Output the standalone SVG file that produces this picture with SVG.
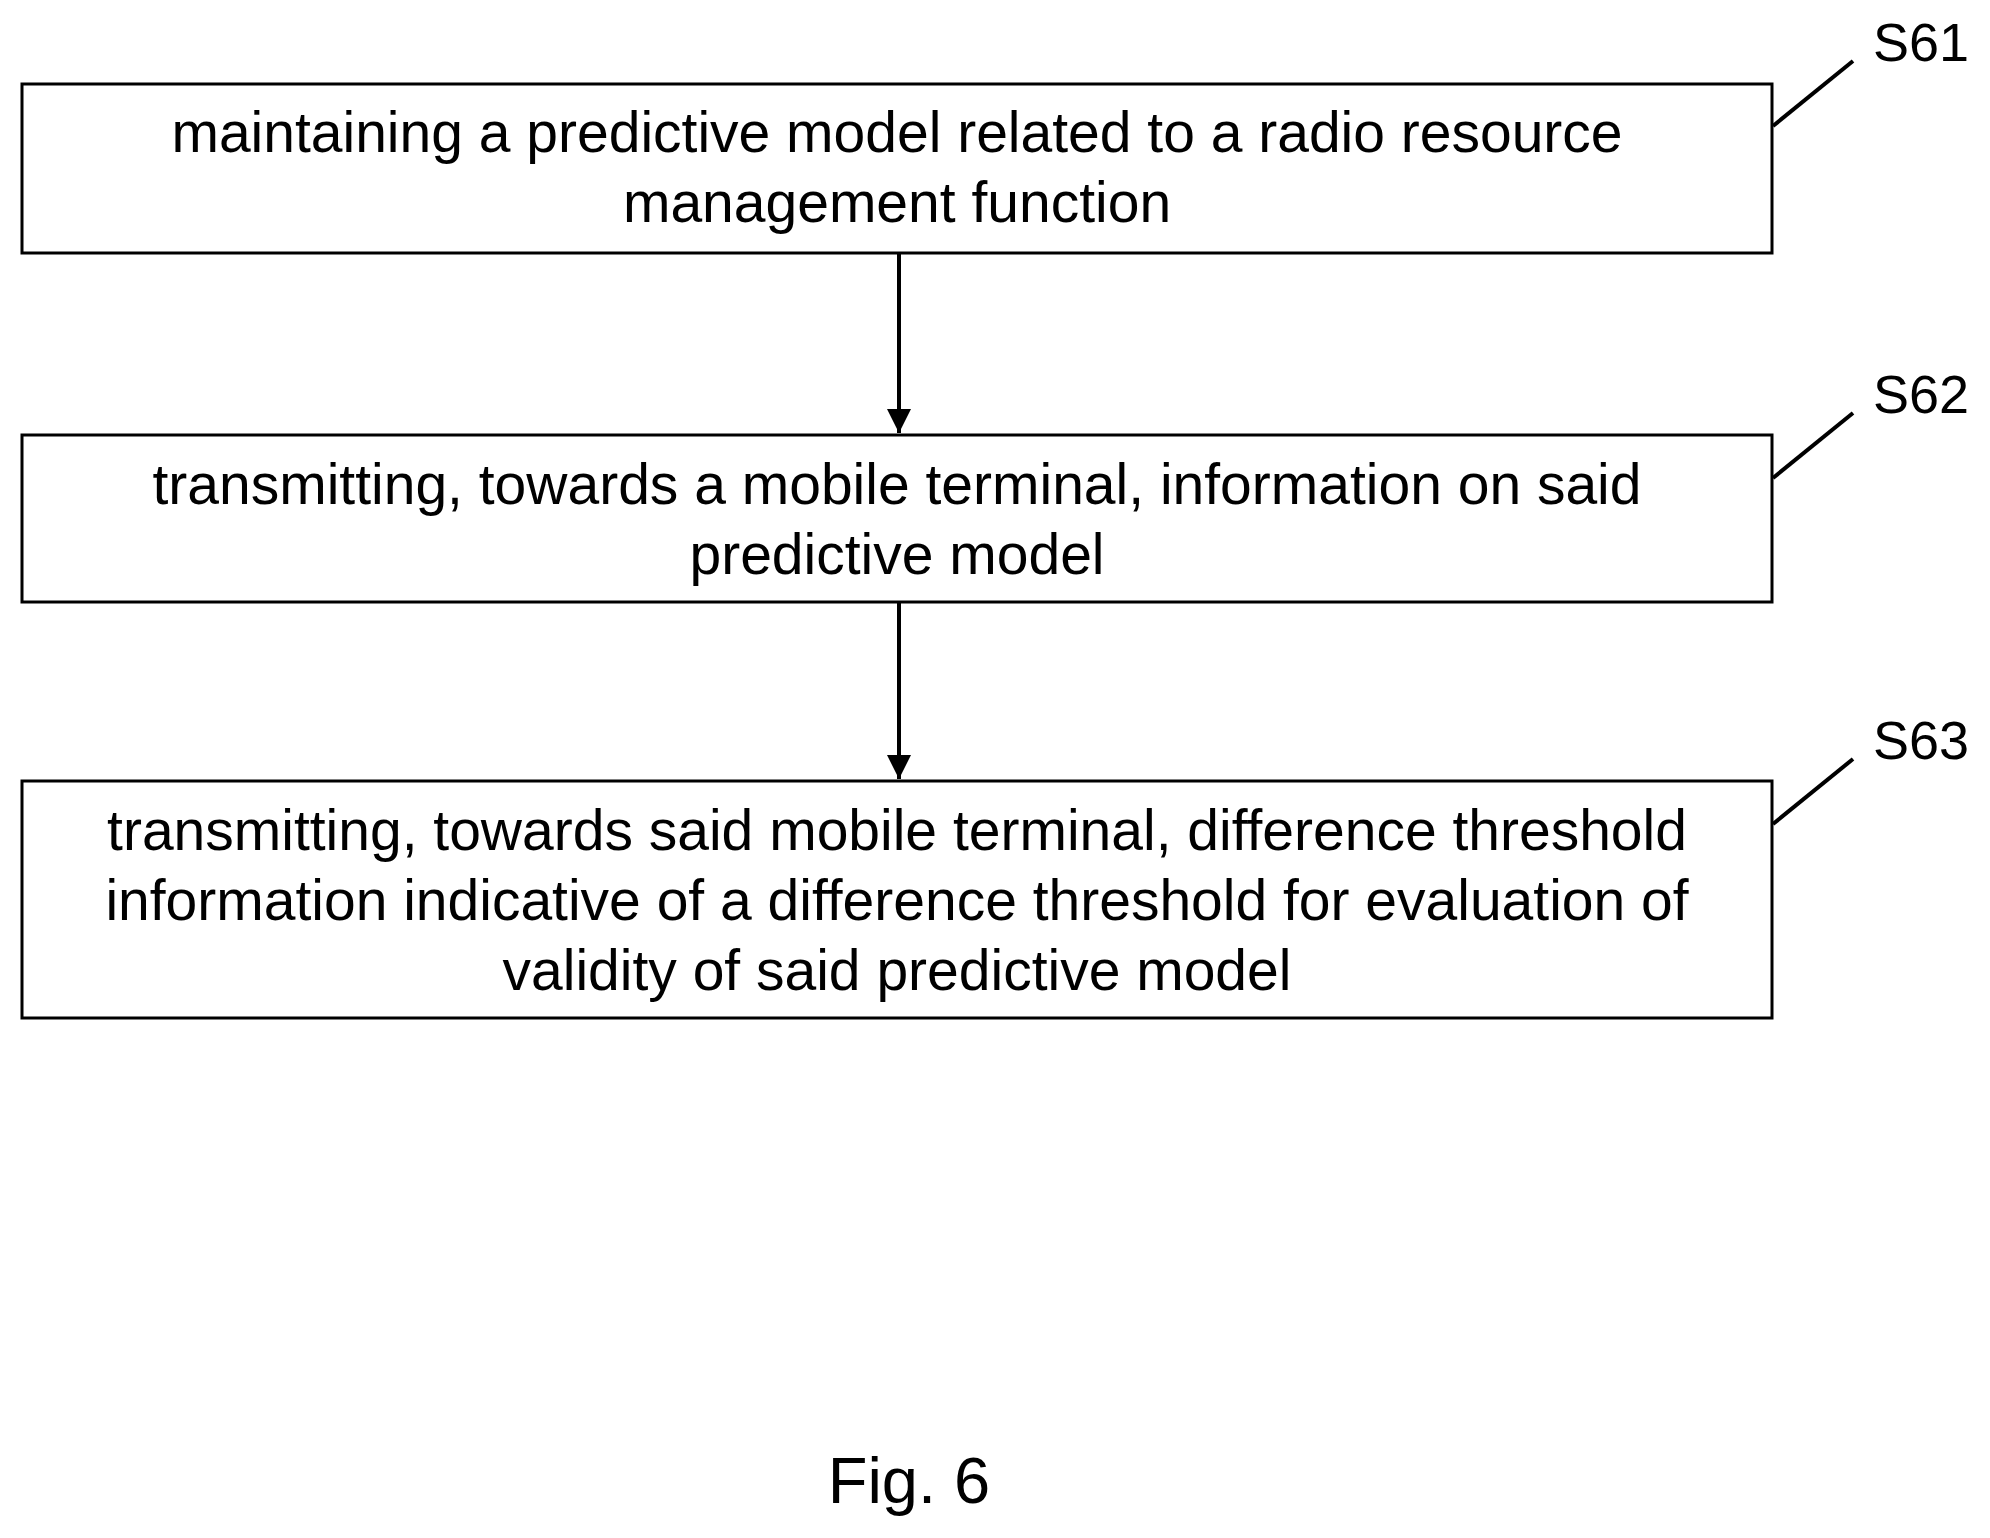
<svg xmlns="http://www.w3.org/2000/svg" width="1990" height="1538" viewBox="0 0 1990 1538">
<defs><style>
.b{fill:#fff;stroke:#000;stroke-width:3}
.t{font-family:"Liberation Sans",Arial,sans-serif;font-size:57px;text-anchor:middle;fill:#000}
.l{font-family:"Liberation Sans",Arial,sans-serif;font-size:54px;fill:#000}
.c{stroke:#000;stroke-width:4;fill:none}
</style>
<marker id="ah" viewBox="0 0 10 10" refX="10" refY="5" markerWidth="24" markerHeight="24" orient="auto" markerUnits="userSpaceOnUse"><path d="M0,0 L10,5 L0,10z" fill="#000"/></marker>
</defs>
<rect width="1990" height="1538" fill="#fff"/>
<g id="n1"><rect class="b" x="22" y="84" width="1750" height="169"/>
<text class="t" x="897" y="152">maintaining a predictive model related to a radio resource</text>
<text class="t" x="897" y="222">management function</text></g>
<g id="n2"><rect class="b" x="22" y="435" width="1750" height="167"/>
<text class="t" x="897" y="504">transmitting, towards a mobile terminal, information on said</text>
<text class="t" x="897" y="574">predictive model</text></g>
<g id="n3"><rect class="b" x="22" y="781" width="1750" height="237"/>
<text class="t" x="897" y="850">transmitting, towards said mobile terminal, difference threshold</text>
<text class="t" x="897" y="920">information indicative of a difference threshold for evaluation of</text>
<text class="t" x="897" y="990">validity of said predictive model</text></g>
<g id="connectors">
<line class="c" x1="899" y1="253" x2="899" y2="433" marker-end="url(#ah)"/>
<line class="c" x1="899" y1="602" x2="899" y2="779" marker-end="url(#ah)"/>
<line class="c" x1="1773" y1="126" x2="1853" y2="61"/>
<line class="c" x1="1773" y1="478" x2="1853" y2="413"/>
<line class="c" x1="1773" y1="824" x2="1853" y2="759"/>
</g>
<g id="labels">
<text class="l" x="1873" y="61">S61</text>
<text class="l" x="1873" y="413">S62</text>
<text class="l" x="1873" y="759">S63</text>
<text class="t" x="909" y="1503" style="font-size:65px">Fig. 6</text>
</g>
</svg>
